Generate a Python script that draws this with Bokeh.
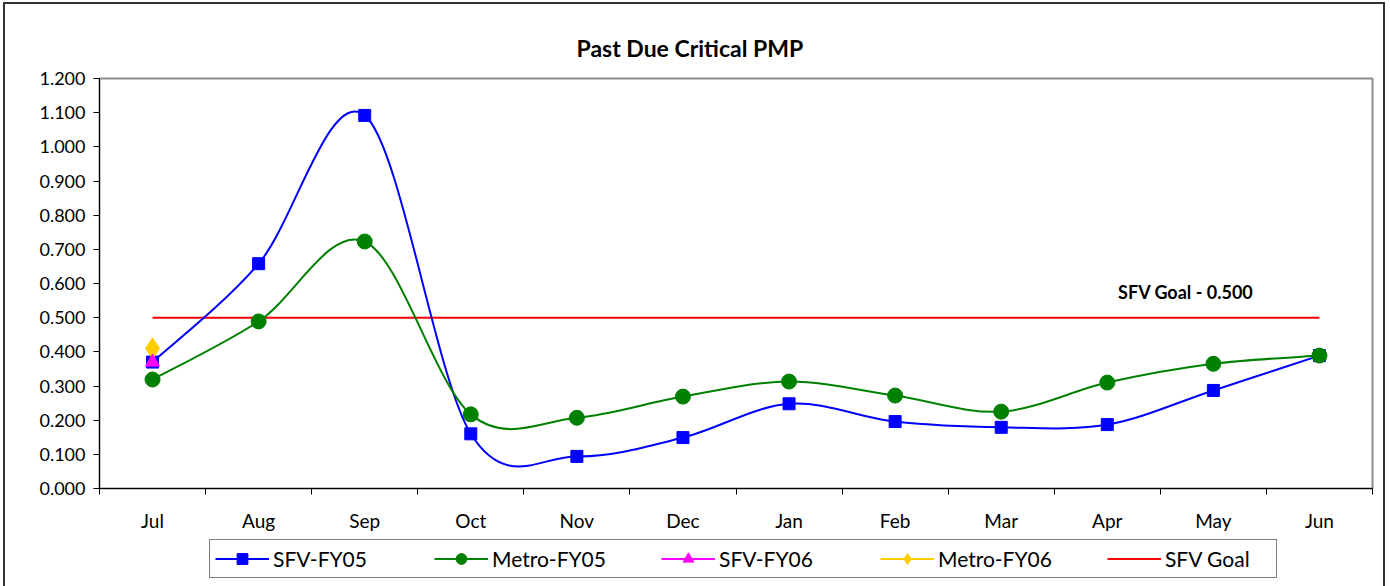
from bokeh.plotting import figure
from bokeh.layouts import column
from bokeh.models import (Range1d, FixedTicker, NumeralTickFormatter, Label, Legend, LegendItem, Title)
from bokeh.embed import file_html
from bokeh.resources import INLINE

# ---------------- data ----------------
months = ["Jul", "Aug", "Sep", "Oct", "Nov", "Dec", "Jan", "Feb", "Mar", "Apr", "May", "Jun"]
sfv_fy05 = [0.370, 0.658, 1.092, 0.160, 0.094, 0.149, 0.248, 0.196, 0.179, 0.187, 0.287, 0.389]
metro_fy05 = [0.319, 0.489, 0.723, 0.217, 0.207, 0.269, 0.313, 0.272, 0.225, 0.310, 0.365, 0.389]
sfv_fy06 = [0.370]
metro_fy06 = [0.410]
sfv_goal = 0.500
goal_text = "SFV Goal - 0.500"
chart_title = "Past Due Critical PMP"
series_names = ["SFV-FY05", "Metro-FY05", "SFV-FY06", "Metro-FY06", "SFV Goal"]
y_ticks = [0.0, 0.1, 0.2, 0.3, 0.4, 0.5, 0.6, 0.7, 0.8, 0.9, 1.0, 1.1, 1.2]

FONT = "Lato"
BLUE, GREEN, MAGENTA, GOLD, RED = "#0000ff", "#008000", "#ff00ff", "#ffcc00", "#ff0000"

xc = [i + 0.5 for i in range(len(months))]  # category centres


def smooth_segments(xs, ys):
    """Bezier control points for an Excel-like smoothed line through the points."""
    n = len(xs)
    pts = list(zip(xs, ys))
    d = dict(x0=[], y0=[], x1=[], y1=[], cx0=[], cy0=[], cx1=[], cy1=[])
    for i in range(n - 1):
        p0 = pts[i - 1] if i > 0 else pts[i]
        p1 = pts[i]
        p2 = pts[i + 1]
        p3 = pts[i + 2] if i + 2 < n else pts[i + 1]
        d["x0"].append(p1[0]); d["y0"].append(p1[1])
        d["x1"].append(p2[0]); d["y1"].append(p2[1])
        d["cx0"].append(p1[0] + (p2[0] - p0[0]) / 6.0)
        d["cy0"].append(p1[1] + (p2[1] - p0[1]) / 6.0)
        d["cx1"].append(p2[0] - (p3[0] - p1[0]) / 6.0)
        d["cy1"].append(p2[1] - (p3[1] - p1[1]) / 6.0)
    return d


def draw_series(fig):
    """Draw all series on a figure; returns renderers per legend entry."""
    goal_r = fig.line([xc[0], xc[-1]], [sfv_goal, sfv_goal], line_color=RED, line_width=2)
    b1 = fig.bezier(x0="x0", y0="y0", x1="x1", y1="y1", cx0="cx0", cy0="cy0", cx1="cx1", cy1="cy1",
                    source=smooth_segments(xc, sfv_fy05), line_color=BLUE, line_width=2)
    b2 = fig.bezier(x0="x0", y0="y0", x1="x1", y1="y1", cx0="cx0", cy0="cy0", cx1="cx1", cy1="cy1",
                    source=smooth_segments(xc, metro_fy05), line_color=GREEN, line_width=2)
    b3 = fig.line(xc[:len(sfv_fy06)], sfv_fy06, line_color=MAGENTA, line_width=2)
    b4 = fig.line(xc[:len(metro_fy06)], metro_fy06, line_color=GOLD, line_width=2)
    m1 = fig.scatter(xc, sfv_fy05, marker="square", size=12, fill_color=BLUE, line_color=BLUE)
    m2 = fig.scatter(xc, metro_fy05, marker="circle", size=15, fill_color=GREEN, line_color=GREEN)
    m4 = fig.scatter(xc[:len(metro_fy06)], metro_fy06, marker="diamond", size=21,
                     fill_color=GOLD, line_color=GOLD)
    m3 = fig.scatter(xc[:len(sfv_fy06)], sfv_fy06, marker="triangle", size=14,
                     fill_color=MAGENTA, line_color=MAGENTA)
    return [[b1, m1], [b2, m2], [b3, m3], [b4, m4], [goal_r]]


# ---------------- main chart ----------------
p = figure(width=1378, height=532, output_backend="svg", toolbar_location=None,
           x_range=Range1d(0, 12), y_range=Range1d(0, 1.2),
           min_border_left=94, min_border_right=11, min_border_top=74, min_border_bottom=48)
p.frame_width = 1273
p.frame_height = 410
p.background_fill_color = "white"
p.border_fill_color = "white"
p.outline_line_color = "#8c8c8c"
p.outline_line_width = 2
p.xgrid.visible = False
p.ygrid.visible = False

p.yaxis.ticker = FixedTicker(ticks=y_ticks)
p.yaxis.formatter = NumeralTickFormatter(format="0.000")
p.yaxis.major_tick_out = 6
p.yaxis.major_tick_in = 0
p.yaxis.minor_tick_line_color = None
p.yaxis.axis_line_color = "black"
p.yaxis.major_tick_line_color = "black"
p.yaxis.major_label_text_font = FONT
p.yaxis.major_label_text_font_size = "18px"
p.yaxis.major_label_text_color = "black"
p.yaxis.major_label_standoff = 8

p.xaxis.ticker = FixedTicker(ticks=xc, minor_ticks=list(range(len(months) + 1)))
p.xaxis.major_label_overrides = {x: m for x, m in zip(xc, months)}
p.xaxis.major_tick_out = 0
p.xaxis.major_tick_in = 0
p.xaxis.minor_tick_out = 6
p.xaxis.minor_tick_in = 0
p.xaxis.minor_tick_line_color = "black"
p.xaxis.axis_line_color = "black"
p.xaxis.major_label_text_font = FONT
p.xaxis.major_label_text_font_size = "19px"
p.xaxis.major_label_text_color = "black"
p.xaxis.major_label_standoff = 14

p.add_layout(Title(text=chart_title, align="left", offset=477, text_font=FONT,
                   text_font_size="23px", text_font_style="bold", text_color="black",
                   standoff=33), "above")

draw_series(p)

p.add_layout(Label(x=10.24, y=0.574, text=goal_text, text_align="center", text_baseline="middle",
                   text_font=FONT, text_font_size="18px", text_font_style="bold", text_color="black"))

# ---------------- legend strip ----------------
q = figure(width=1378, height=50, output_backend="svg", toolbar_location=None,
           x_range=Range1d(0, 12), y_range=Range1d(100, 101),
           min_border_left=0, min_border_right=0, min_border_top=0, min_border_bottom=0)
q.axis.visible = False
q.grid.visible = False
q.outline_line_color = None
q.background_fill_color = "white"
q.border_fill_color = "white"
proxies = draw_series(q)  # all outside q's visible range; used only for legend glyphs

legend = Legend(items=[LegendItem(label=n, renderers=r) for n, r in zip(series_names, proxies)],
                orientation="horizontal", location=(110, 8))
legend.label_text_font = FONT
legend.label_text_font_size = "21px"
legend.label_text_color = "black"
legend.glyph_width = 54
legend.glyph_height = 27
legend.label_height = 27
legend.label_width = 106
legend.label_standoff = 4
legend.spacing = 55
legend.padding = 5
legend.margin = 0
legend.border_line_color = "black"
legend.border_line_width = 1
legend.background_fill_alpha = 1
q.add_layout(legend, "center")

layout = column(p, q, spacing=0,
                styles={"border": "2px solid #333333", "margin-left": "3px", "margin-top": "2px",
                        "background-color": "white"})

open("out.html", "w").write(file_html(layout, INLINE))
